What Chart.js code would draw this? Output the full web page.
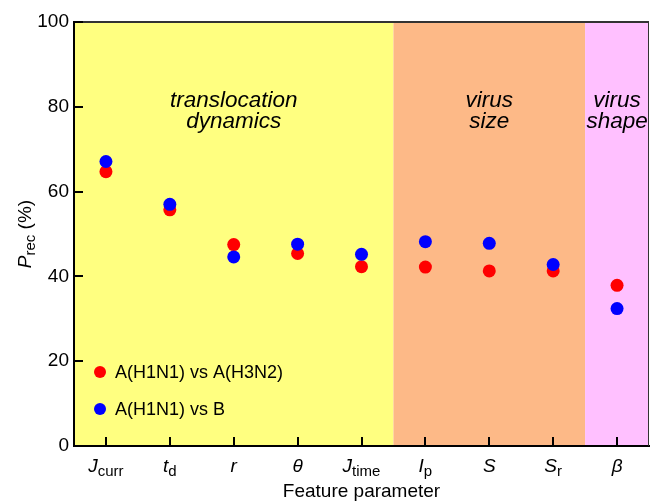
<!DOCTYPE html>
<html>
<head>
<meta charset="utf-8">
<script src="https://cdn.jsdelivr.net/npm/chart.js@4/dist/chart.umd.min.js"></script>
<style>
    html, body { margin: 0; padding: 0; background: #fff; }
    canvas { display: block; }
</style>
</head>
<body>
<canvas id="chart" width="650" height="502"></canvas>
<script>
    // feature parameters (italic symbol + upright subscript)
    const categories = ["Jcurr", "td", "r", "theta", "Jtime", "Ip", "S", "Sr", "beta"];
    const labelMain = ["J", "t", "r", "θ", "J", "I", "S", "S", "β"];
    const labelSub = ["curr", "d", "", "", "time", "p", "", "r", ""];

    const h1n1VsH3n2 = [64.7, 55.7, 47.5, 45.4, 42.3, 42.2, 41.3, 41.3, 37.9];
    const h1n1VsB = [67.1, 57.0, 44.6, 47.6, 45.2, 48.2, 47.8, 42.8, 32.4];

    const yTicks = [0, 20, 40, 60, 80, 100];

    // shaded groups: first index, last index, colour, label lines
    const groups = [
        { from: 0, to: 4, color: "#ffff80", lines: ["translocation", "dynamics"] },
        { from: 5, to: 7, color: "#fdb987", lines: ["virus", "size"] },
        { from: 8, to: 8, color: "#ffc0ff", lines: ["virus", "shape"] }
    ];

    const FONT = "'Liberation Sans', Arial, sans-serif";

    const decorations = {
        id: "decorations",
        beforeDraw(chart) {
            const { ctx, chartArea: area, scales: { x } } = chart;
            ctx.save();
            groups.forEach(group => {
                const left = group.from === 0 ? area.left : (x.getPixelForValue(group.from - 1) + x.getPixelForValue(group.from)) / 2;
                const right = group.to === categories.length - 1 ? area.right : (x.getPixelForValue(group.to) + x.getPixelForValue(group.to + 1)) / 2;
                ctx.fillStyle = group.color;
                ctx.fillRect(left, area.top, right - left, area.bottom - area.top);
            });

            ctx.beginPath();
            ctx.rect(area.left, area.top, area.right - area.left, area.bottom - area.top);
            ctx.clip();
            ctx.fillStyle = "#000";
            ctx.font = `italic 22.5px ${FONT}`;
            ctx.textAlign = "center";
            ctx.textBaseline = "alphabetic";
            groups.forEach(group => {
                const center = (x.getPixelForValue(group.from) + x.getPixelForValue(group.to)) / 2;
                group.lines.forEach((line, i) => ctx.fillText(line, center, 107 + i * 21));
            });
            ctx.restore();
        },
        afterDraw(chart) {
            const { ctx, chartArea: area, scales: { x, y } } = chart;
            ctx.save();

            // frame on top and right
            ctx.strokeStyle = "#333";
            ctx.lineWidth = 2;
            ctx.beginPath();
            ctx.moveTo(area.left, area.top);
            ctx.lineTo(area.right, area.top);
            ctx.stroke();
            ctx.lineWidth = 1;
            ctx.beginPath();
            ctx.moveTo(area.right - 0.5, area.top);
            ctx.lineTo(area.right - 0.5, area.bottom);
            ctx.stroke();

            // inward ticks
            ctx.strokeStyle = "#000";
            ctx.lineWidth = 2;
            ctx.beginPath();
            yTicks.forEach(value => {
                const py = Math.round(y.getPixelForValue(value));
                ctx.moveTo(area.left, py);
                ctx.lineTo(area.left + 9, py);
            });
            categories.forEach((_, i) => {
                const px = Math.round(x.getPixelForValue(i));
                ctx.moveTo(px, area.bottom);
                ctx.lineTo(px, area.bottom - 9);
            });
            ctx.stroke();

            // x tick labels with subscripts
            ctx.fillStyle = "#000";
            ctx.textBaseline = "alphabetic";
            ctx.textAlign = "left";
            categories.forEach((_, i) => {
                const mainFont = `italic 19px ${FONT}`;
                const subFont = `15px ${FONT}`;
                ctx.font = mainFont;
                const mainWidth = ctx.measureText(labelMain[i]).width;
                ctx.font = subFont;
                const subWidth = labelSub[i] ? ctx.measureText(labelSub[i]).width : 0;
                const start = x.getPixelForValue(i) - (mainWidth + subWidth) / 2;
                const base = area.bottom + 26;
                ctx.font = mainFont;
                ctx.fillText(labelMain[i], start, base);
                if (labelSub[i]) {
                    ctx.font = subFont;
                    ctx.fillText(labelSub[i], start + mainWidth, base + 4);
                }
            });

            // x axis title
            ctx.font = `19px ${FONT}`;
            ctx.textAlign = "center";
            ctx.fillText("Feature parameter", (area.left + area.right) / 2, area.bottom + 51);

            // y axis title: P_rec (%)
            ctx.translate(31, (area.top + area.bottom) / 2);
            ctx.rotate(-Math.PI / 2);
            const parts = [
                { text: "P", font: `italic 19px ${FONT}`, dy: 0 },
                { text: "rec", font: `15px ${FONT}`, dy: 4 },
                { text: " (%)", font: `19px ${FONT}`, dy: 0 }
            ];
            let total = 0;
            parts.forEach(part => { ctx.font = part.font; total += ctx.measureText(part.text).width; });
            let cursor = -total / 2;
            ctx.textAlign = "left";
            parts.forEach(part => {
                ctx.font = part.font;
                ctx.fillText(part.text, cursor, part.dy);
                cursor += ctx.measureText(part.text).width;
            });
            ctx.restore();

            // legend inside plot
            ctx.save();
            ctx.font = `18px ${FONT}`;
            ctx.textBaseline = "middle";
            ctx.textAlign = "left";
            chart.data.datasets.slice().sort((a, b) => b.order - a.order).forEach((dataset, i) => {
                const cy = 372 + i * 37;
                ctx.fillStyle = dataset.backgroundColor;
                ctx.beginPath();
                ctx.arc(100, cy, 6, 0, Math.PI * 2);
                ctx.fill();
                ctx.fillStyle = "#000";
                ctx.fillText(dataset.label, 115, cy + 1);
            });
            ctx.restore();
        }
    };

    new Chart(document.getElementById("chart"), {
        type: "line",
        data: {
            labels: categories,
            datasets: [
                {
                    label: "A(H1N1) vs A(H3N2)",
                    data: h1n1VsH3n2,
                    backgroundColor: "#ff0000",
                    borderColor: "#ff0000",
                    showLine: false,
                    pointRadius: 6.5,
                    pointBorderWidth: 0,
                    order: 2
                },
                {
                    label: "A(H1N1) vs B",
                    data: h1n1VsB,
                    backgroundColor: "#0000ff",
                    borderColor: "#0000ff",
                    showLine: false,
                    pointRadius: 6.5,
                    pointBorderWidth: 0,
                    order: 1
                }
            ]
        },
        options: {
            responsive: false,
            animation: false,
            layout: { autoPadding: false, padding: { top: 22, right: 1 } },
            plugins: {
                legend: { display: false },
                tooltip: { enabled: false }
            },
            scales: {
                x: {
                    offset: true,
                    grid: { display: false, drawTicks: false },
                    border: { display: true, color: "#000", width: 2 },
                    ticks: { display: false },
                    afterFit(scale) { scale.height = 56; }
                },
                y: {
                    min: 0,
                    max: 100,
                    grid: { display: false, drawTicks: false },
                    border: { display: true, color: "#000", width: 2 },
                    ticks: {
                        stepSize: 20,
                        padding: 5,
                        color: "#000",
                        font: { family: FONT, size: 19 }
                    },
                    afterFit(scale) { scale.width = 74; }
                }
            }
        },
        plugins: [decorations]
    });
</script>
</body>
</html>
